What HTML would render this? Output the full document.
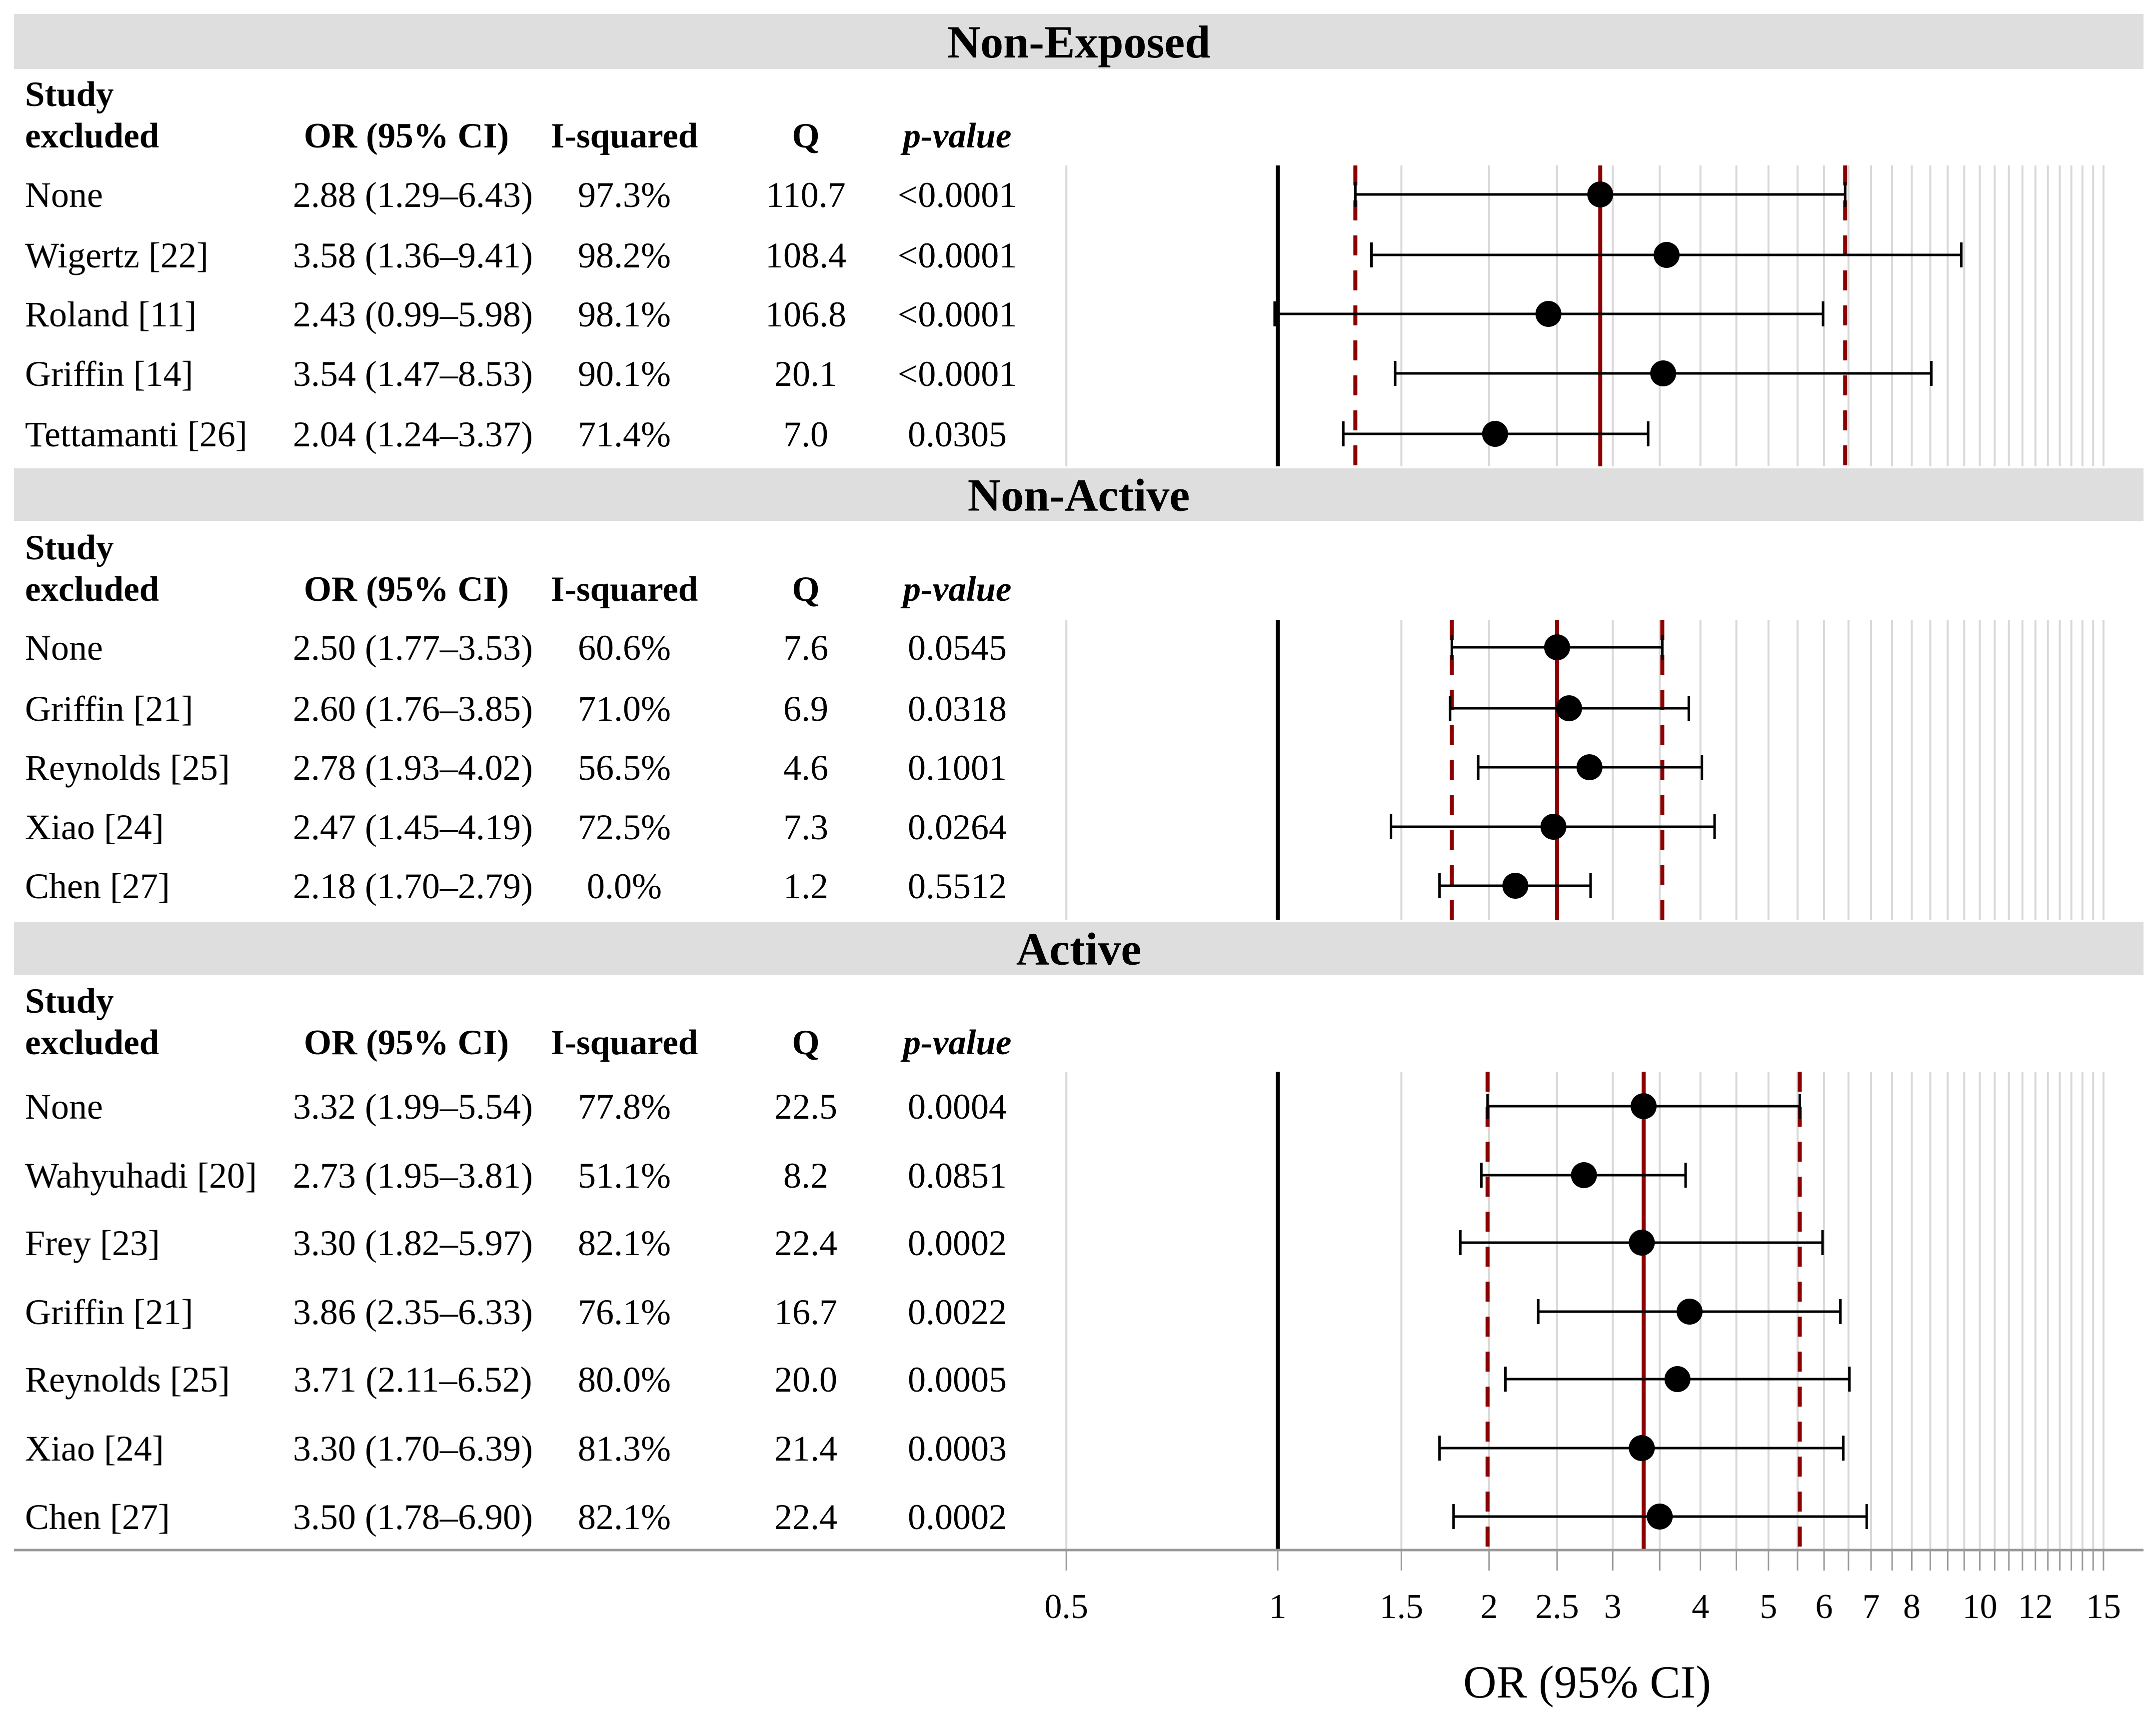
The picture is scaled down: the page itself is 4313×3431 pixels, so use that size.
<!DOCTYPE html>
<html><head><meta charset="utf-8"><style>
html,body{margin:0;padding:0;background:#fff;}
svg{display:block;}
text{font-family:"Liberation Serif",serif;fill:#000;}
</style></head><body>
<svg id="chart" width="4313" height="3431" viewBox="0 0 4313 3431" xmlns="http://www.w3.org/2000/svg">
<g id="bg"></g><g id="grid"></g><g id="marks"></g><g id="txt"></g>
</svg>
<script>
const sectionTitles = ["Non-Exposed", "Non-Active", "Active"];
const studies1 = ["None","Wigertz [22]","Roland [11]","Griffin [14]","Tettamanti [26]"];
const or1 = [2.88,3.58,2.43,3.54,2.04];
const lo1 = [1.29,1.36,0.99,1.47,1.24];
const hi1 = [6.43,9.41,5.98,8.53,3.37];
const isq1 = ["97.3%","98.2%","98.1%","90.1%","71.4%"];
const q1 = ["110.7","108.4","106.8","20.1","7.0"];
const p1 = ["<0.0001","<0.0001","<0.0001","<0.0001","0.0305"];
const studies2 = ["None","Griffin [21]","Reynolds [25]","Xiao [24]","Chen [27]"];
const or2 = [2.50,2.60,2.78,2.47,2.18];
const lo2 = [1.77,1.76,1.93,1.45,1.70];
const hi2 = [3.53,3.85,4.02,4.19,2.79];
const isq2 = ["60.6%","71.0%","56.5%","72.5%","0.0%"];
const q2 = ["7.6","6.9","4.6","7.3","1.2"];
const p2 = ["0.0545","0.0318","0.1001","0.0264","0.5512"];
const studies3 = ["None","Wahyuhadi [20]","Frey [23]","Griffin [21]","Reynolds [25]","Xiao [24]","Chen [27]"];
const or3 = [3.32,2.73,3.30,3.86,3.71,3.30,3.50];
const lo3 = [1.99,1.95,1.82,2.35,2.11,1.70,1.78];
const hi3 = [5.54,3.81,5.97,6.33,6.52,6.39,6.90];
const isq3 = ["77.8%","51.1%","82.1%","76.1%","80.0%","81.3%","82.1%"];
const q3 = ["22.5","8.2","22.4","16.7","20.0","21.4","22.4"];
const p3 = ["0.0004","0.0851","0.0002","0.0022","0.0005","0.0003","0.0002"];
const tickLabels = [0.5,1,1.5,2,2.5,3,4,5,6,7,8,10,12,15];

const NS="http://www.w3.org/2000/svg";
function X(v){return 2556+610*Math.log(v);}
function mk(parent,tag,attrs){const e=document.createElementNS(NS,tag);for(const k in attrs)e.setAttribute(k,attrs[k]);document.getElementById(parent).appendChild(e);return e;}
function fmt(v){return v.toFixed(2);}

const sections=[
 {studies:studies1,or:or1,lo:lo1,hi:hi1,isq:isq1,q:q1,p:p1,band:[28,138],hdr:[187,270],rows:[389,510,628,747,868],panel:[331,933],pool:0},
 {studies:studies2,or:or2,lo:lo2,hi:hi2,isq:isq2,q:q2,p:p2,band:[937,1042],hdr:[1094,1177],rows:[1295,1417,1535,1654,1772],panel:[1240,1840],pool:0},
 {studies:studies3,or:or3,lo:lo3,hi:hi3,isq:isq3,q:q3,p:p3,band:[1844,1951],hdr:[2001,2084],rows:[2213,2351,2486,2624,2759,2897,3034],panel:[2144,3101],pool:0}
];
const gridVals=[0.5];for(let v=1.5;v<=15.001;v+=0.5)gridVals.push(v);

sections.forEach((s,si)=>{
 const b=mk('bg','rect',{x:28,y:s.band[0],width:4260,height:s.band[1]-s.band[0],fill:'#dedede'});
 
 
 const t=mk('txt','text',{x:2158,y:(s.band[0]+s.band[1])/2+32,'font-size':92,'font-weight':'bold','text-anchor':'middle'});
 t.textContent=sectionTitles[si];
 
 
 const hdrs=[["Study",50,s.hdr[0],'start',''],["excluded",50,s.hdr[1],'start',''],["OR (95% CI)",813,s.hdr[1],'middle',''],["I-squared",1249,s.hdr[1],'middle',''],["Q",1612,s.hdr[1],'middle',''],["p-value",1915,s.hdr[1],'middle','italic']];
 hdrs.forEach(h=>{const e=mk('txt','text',{x:h[1],y:h[2]+25,'font-size':71,'font-weight':'bold','text-anchor':h[3],'font-style':h[4]||'normal'});e.textContent=h[0];
  
  });
 gridVals.forEach(v=>{const l=mk('grid','line',{x1:X(v),x2:X(v),y1:s.panel[0],y2:s.panel[1],stroke:'#d9d9d9','stroke-width':4});
  
  });
 const one=mk('marks','line',{x1:X(1),x2:X(1),y1:s.panel[0],y2:s.panel[1],stroke:'#000','stroke-width':8});
 
 
 const pi=s.pool;
 [[s.lo[pi],'40 30'],[s.hi[pi],'40 30'],[s.or[pi],'']].forEach(r=>{
  const l=mk('marks','line',{x1:X(r[0]),x2:X(r[0]),y1:s.panel[0],y2:s.panel[1],stroke:'#8b0000','stroke-width':8,'stroke-dasharray':r[1]||'none'});
  
  
 });
 s.rows.forEach((y,i)=>{
  const cols=[[s.studies[i],50,'start'],[fmt(s.or[i])+' ('+fmt(s.lo[i])+'\u2013'+fmt(s.hi[i])+')',826,'middle'],[s.isq[i],1249,'middle'],[s.q[i],1612,'middle'],[s.p[i],1915,'middle']];
  cols.forEach(c=>{const e=mk('txt','text',{x:c[1],y:y+25,'font-size':72,'text-anchor':c[2]});e.textContent=c[0];
   
   });
  const bar=mk('marks','line',{x1:X(s.lo[i]),x2:X(s.hi[i]),y1:y,y2:y,stroke:'#000','stroke-width':5});
  
  
  [s.lo[i],s.hi[i]].forEach(v=>{const c=mk('marks','line',{x1:X(v),x2:X(v),y1:y-25,y2:y+25,stroke:'#000','stroke-width':5});
   
   });
  const d=mk('marks','circle',{cx:X(s.or[i]),cy:y,r:26,fill:'#000'});
  
  
 });
});
const ax=mk('marks','line',{x1:28,x2:4288,y1:3101,y2:3101,stroke:'#999','stroke-width':5});


gridVals.concat([1]).forEach(v=>{const t=mk('marks','line',{x1:X(v),x2:X(v),y1:3101,y2:3142,stroke:'#999','stroke-width':3});
 
 });
tickLabels.forEach(v=>{const t=mk('txt','text',{x:X(v),y:3237,'font-size':70,'text-anchor':'middle'});t.textContent=String(v);
 
 });
const at=mk('txt','text',{x:3175,y:3396,'font-size':92,'text-anchor':'middle'});
at.textContent='OR (95% CI)';


</script>
</body></html>
